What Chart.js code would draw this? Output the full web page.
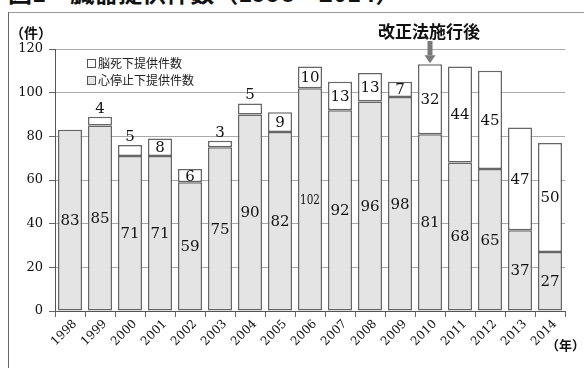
<!DOCTYPE html>
<html>
<head>
<meta charset="utf-8">
<script src="https://cdn.jsdelivr.net/npm/chart.js@4.4.1/dist/chart.umd.min.js"></script>
<style>
body { margin: 0; background: #fff; width: 584px; height: 368px; overflow: hidden; position: relative; font-family: "Noto Sans CJK JP", sans-serif; }
#frame { position: absolute; left: 8px; top: 12px; width: 620px; height: 420px; border-top: 1px solid #999; border-left: 1px solid #666; }
.t { position: absolute; white-space: nowrap; color: #111; }
canvas { position: absolute; left: 0; top: 0; }
.legend { position: absolute; left: 87px; font-size: 12px; line-height: 16px; color: #222; }
.box { display: inline-block; width: 7px; height: 7px; border: 1px solid #555; margin-right: 2px; vertical-align: 0px; }
</style>
</head>
<body>
<div class="t" style="left:8px;top:-20px;font-size:24px;line-height:24px;font-weight:bold">図1　臓器提供件数（1998～2014）</div>
<div id="frame"></div>
<canvas id="myChart" width="584" height="368"></canvas>
<div class="t" style="left:10px;top:22px;font-size:14px;line-height:20px;font-weight:bold">（件）</div>
<div class="t" style="left:378px;top:20px;font-size:17px;line-height:22px;font-weight:bold">改正法施行後</div>
<div class="t" style="left:546px;top:335px;font-size:13px;line-height:20px;font-weight:bold">（年）</div>
<div class="legend" style="top:55px"><span class="box" style="background:#fff"></span>脳死下提供件数</div>
<div class="legend" style="top:72px"><span class="box" style="background:#e4e4e4"></span>心停止下提供件数</div>
<script>
// data
const years = ['1998', '1999', '2000', '2001', '2002', '2003', '2004', '2005', '2006', '2007', '2008', '2009', '2010', '2011', '2012', '2013', '2014'];
const cardiacArrest = [83, 85, 71, 71, 59, 75, 90, 82, 102, 92, 96, 98, 81, 68, 65, 37, 27];
const brainDeath = [0, 4, 5, 8, 6, 3, 5, 9, 10, 13, 13, 7, 32, 44, 45, 47, 50];
const lawYear = '2010';

const serif = 'DejaVu Serif';

// numbers inside the bars (small segments get their number above the bar)
const barLabels = {
    id: 'barLabels',
    afterDatasetsDraw(chart) {
        const c = chart.ctx;
        c.fillStyle = '#111';
        c.textAlign = 'center';
        c.textBaseline = 'middle';
        chart.data.datasets.forEach((ds, i) => {
            chart.getDatasetMeta(i).data.forEach((bar, j) => {
                const v = ds.data[j];
                if (!v) return;
                const txt = String(v);
                const h = bar.base - bar.y;
                let y = (bar.y + bar.base) / 2;
                if (h < 12) y = bar.y - 9;
                c.save();
                c.font = '15px "' + serif + '"';
                const room = bar.width - 4;
                const w = c.measureText(txt).width;
                c.translate(bar.x, y + 1);
                if (w > room) {
                    // squeeze wide numbers like 102 into the bar
                    c.font = '13px "' + serif + '"';
                    c.scale(room / c.measureText(txt).width, 1);
                }
                c.fillText(txt, 0, 0);
                c.restore();
            });
        });
    }
};

// grey arrow pointing at the first year after the revised law
const lawArrow = {
    id: 'lawArrow',
    afterDraw(chart) {
        const i = years.indexOf(lawYear);
        const x = chart.scales.x.getPixelForValue(i);
        const tip = chart.scales.y.getPixelForValue(cardiacArrest[i] + brainDeath[i]) - 1;
        const c = chart.ctx;
        c.save();
        c.fillStyle = '#7a7a7a';
        c.fillRect(x - 2.5, 41, 5, tip - 8 - 41);
        c.beginPath();
        c.moveTo(x - 5.5, tip - 8);
        c.lineTo(x + 5.5, tip - 8);
        c.lineTo(x, tip);
        c.closePath();
        c.fill();
        c.restore();
    }
};

const ctx = document.getElementById('myChart');
const myChart = new Chart(ctx, {
    type: 'bar',
    data: {
        labels: years,
        datasets: [{
            label: '心停止下提供件数',
            data: cardiacArrest,
            backgroundColor: '#e4e4e4',
            borderColor: '#666',
            borderWidth: 1.5,
            borderSkipped: false
        }, {
            label: '脳死下提供件数',
            data: brainDeath,
            backgroundColor: '#fff',
            borderColor: '#666',
            borderWidth: 1.5,
            borderSkipped: false
        }]
    },
    options: {
        responsive: false,
        animation: false,
        devicePixelRatio: 1,
        layout: { padding: { top: 49, right: 19, left: 0, bottom: 0 } },
        datasets: { bar: { barPercentage: 0.8, categoryPercentage: 1.0 } },
        plugins: {
            legend: { display: false },
            tooltip: { enabled: false }
        },
        scales: {
            x: {
                stacked: true,
                grid: { offset: true, drawOnChartArea: false, tickLength: 6, color: '#666' },
                border: { color: '#555' },
                ticks: { minRotation: 45, maxRotation: 45, labelOffset: 5, color: '#111', padding: 0, font: { family: serif, size: 12 } },
                afterFit(s) { s.height = 57; }
            },
            y: {
                stacked: true,
                min: 0,
                max: 120,
                ticks: { stepSize: 20, color: '#111', padding: 6, font: { family: serif, size: 13 } },
                grid: { color: '#aaa', tickLength: 6, tickColor: '#666' },
                border: { color: '#555' },
                afterFit(s) { s.width = 55; }
            }
        }
    },
    plugins: [barLabels, lawArrow]
});
</script>
</body>
</html>
